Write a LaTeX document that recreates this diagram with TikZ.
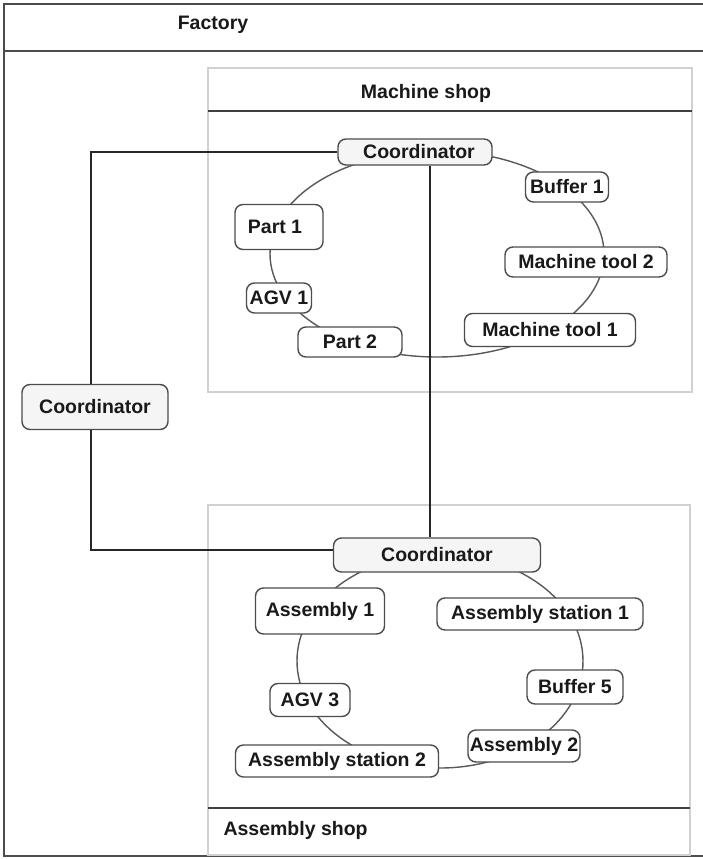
\documentclass[tikz,border=0pt]{standalone}
\usepackage{fontspec}
\setmainfont{Liberation Sans}
\begin{document}
\begin{tikzpicture}[x=1pt,y=-1pt,
  every node/.style={font=\fontsize{19.5}{23}\selectfont\bfseries, text=black!90},
  unit/.style={draw=black!70, line width=1.4pt, rounded corners=8pt, fill=white,
    inner sep=0pt, align=center},
  coord/.style={unit, fill=black!4},
  ring/.style={draw=black!65, line width=1.4pt},
  link/.style={draw=black!85, line width=1.8pt},
  shopframe/.style={draw=black!18, line width=1.4pt},
  rule/.style={draw=black!75, line width=2pt}]
\useasboundingbox (0,0) rectangle (703,859);
\fill[white] (0,0) rectangle (703,859);

% factory frame
\draw[rule, draw=black!70] (703,4) -- (4,4) -- (4,856) -- (703,856);
\draw[rule, draw=black!70] (4,51) -- (703,51);
\node at (213,25) {Factory};

% machine shop frame
\draw[shopframe] (208,68) rectangle (692,392);
\draw[rule] (208,111) -- (692,111);
\node at (426,93) {Machine shop};

% assembly shop frame
\draw[shopframe] (208,505) rectangle (690,855);
\draw[rule] (208,808) -- (690,808);
\node[anchor=west] at (220,830) {Assembly shop};

% rings of the two shops
\draw[ring] (437,254) ellipse [x radius=167, y radius=103];
\draw[ring] (440,661) ellipse [x radius=143, y radius=107];

% machine shop units
\node[coord, minimum width=154pt, minimum height=26pt] (cM) at (415,152) {\hspace*{8pt}Coordinator};
\node[unit, minimum width=83pt, minimum height=30pt] (buf1) at (567,187) {Buffer 1};
\node[unit, minimum width=88pt, minimum height=45pt] (part1) at (279,227) {Part 1\hspace*{8pt}};
\node[unit, minimum width=162pt, minimum height=30pt] (mt2) at (586,262) {Machine tool 2};
\node[unit, minimum width=65pt, minimum height=30pt] (agv1) at (279,298) {AGV 1};
\node[unit, minimum width=171pt, minimum height=33pt] (mt1) at (550,330) {Machine tool 1};
\node[unit, minimum width=104pt, minimum height=30pt] (part2) at (350,342) {Part 2};

% factory coordinator
\node[coord, minimum width=146pt, minimum height=45pt] (cL) at (95,407) {Coordinator};

% assembly shop units
\node[coord, minimum width=207pt, minimum height=34pt] (cA) at (437,555) {Coordinator};
\node[unit, minimum width=129pt, minimum height=46pt] (asm1) at (320,611) {Assembly 1};
\node[unit, minimum width=206pt, minimum height=32pt] (as1) at (540,614) {Assembly station 1};
\node[unit, minimum width=96pt, minimum height=34pt] (buf5) at (575,687) {Buffer 5};
\node[unit, minimum width=80pt, minimum height=33pt] (agv3) at (310,700) {AGV 3};
\node[unit, minimum width=112pt, minimum height=32pt] (asm2) at (524,746) {Assembly 2};
\node[unit, minimum width=203pt, minimum height=32pt] (as2) at (337,761) {Assembly station 2};

% coordinator links
\draw[link] ([xshift=15pt]cM.south) -- ([xshift=-7pt]cA.north);
\draw[link] (cM.west) -| ([xshift=-4pt]cL.north);
\draw[link] ([xshift=-4pt]cL.south) |- ([yshift=5pt]cA.west);
\end{tikzpicture}
\end{document}
